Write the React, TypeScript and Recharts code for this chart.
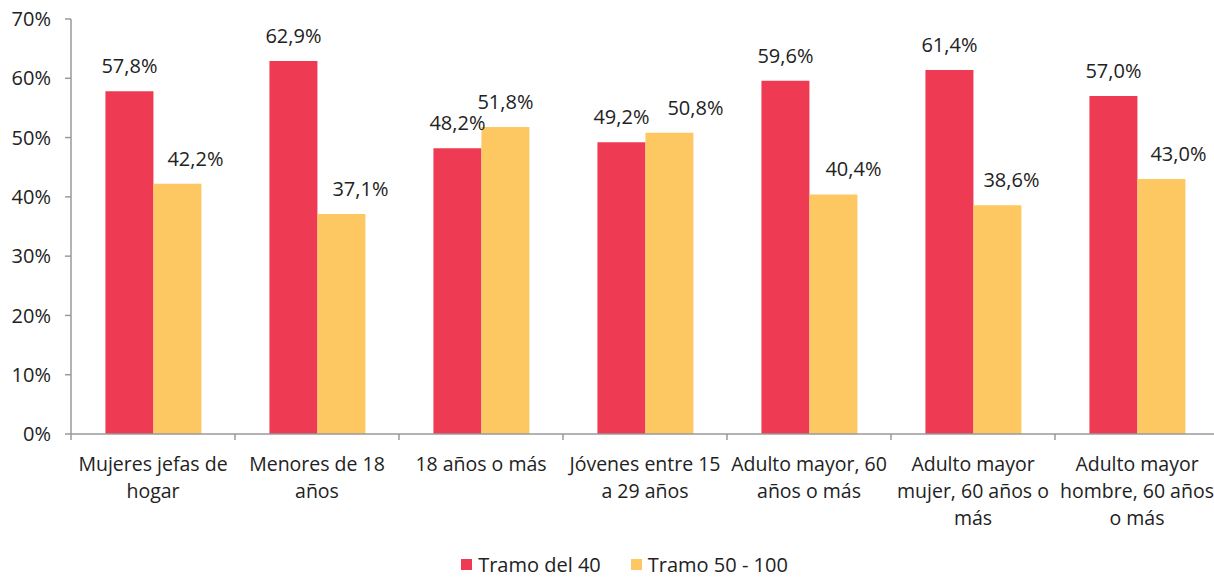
import { BarChart, Bar, XAxis, YAxis, LabelList, Legend } from "recharts";

const categories = [
  "Mujeres jefas de\nhogar",
  "Menores de 18\naños",
  "18 años o más",
  "Jóvenes entre 15\na 29 años",
  "Adulto mayor, 60\naños o más",
  "Adulto mayor\nmujer, 60 años o\nmás",
  "Adulto mayor\nhombre, 60 años\no más",
];
const tramo40 = [57.8, 62.9, 48.2, 49.2, 59.6, 61.4, 57.0];
const tramo50 = [42.2, 37.1, 51.8, 50.8, 40.4, 38.6, 43.0];
const yTicks = [0, 10, 20, 30, 40, 50, 60, 70];
// horizontal nudge of the "Tramo 50 - 100" value labels, as placed in the original
const tramo50LabelShift = [18, 19, 0, 26, 20, 14, 17];

const data = categories.map((c, i) => ({ name: c, t40: tramo40[i], t50: tramo50[i] }));

const FONT = "'Open Sans', sans-serif";
const FS = 20;
const RED = "#EE3B53";
const YELLOW = "#FDC862";
const AXIS = "#9A9A9A";

const W = 1225;
const H = 578;
const M = { top: 19, right: 6, left: 0, bottom: 0 };
const YW = 71;
const step = (W - M.left - M.right - YW) / categories.length;

const fmt = (v: number) => v.toFixed(1).replace(".", ",") + "%";

function XTick(props: any) {
  const { x, y, payload } = props;
  const lines = String(payload.value).split("\n");
  return (
    <g>
      <line x1={x - step / 2} y1={y - 8} x2={x - step / 2} y2={y - 2} stroke={AXIS} strokeWidth={1.5} />
      <text x={x} y={y + 29} textAnchor="middle" fontFamily={FONT} fontSize={19.5} fill="#222">
        {lines.map((l, i) => (
          <tspan key={i} x={x} dy={i === 0 ? 0 : 27}>
            {l}
          </tspan>
        ))}
      </text>
    </g>
  );
}

function ValueLabel(props: any) {
  const { x, y, width, value, index, shift } = props;
  const dx = shift ? shift[index] : 0;
  return (
    <text x={x + width / 2 + dx} y={y - 18} textAnchor="middle" fontFamily={FONT} fontSize={FS} fill="#222">
      {fmt(Number(value))}
    </text>
  );
}

function LegendContent() {
  const items = [
    { label: "Tramo del 40", color: RED },
    { label: "Tramo 50 - 100", color: YELLOW },
  ];
  return (
    <div style={{ display: "flex", justifyContent: "center", fontFamily: FONT, fontSize: FS, lineHeight: "27px", color: "#222", gap: 30, paddingLeft: 30 }}>
      {items.map((it) => (
        <div key={it.label} style={{ display: "flex", alignItems: "center" }}>
          <span style={{ display: "inline-block", width: 11, height: 11, background: it.color, marginRight: 6 }} />
          {it.label}
        </div>
      ))}
    </div>
  );
}

export default function App() {
  return (
    <div style={{ position: "absolute", left: 0, top: 0, width: 1214, height: 578, overflow: "hidden", background: "#fff" }}>
      <BarChart width={W} height={H} data={data} margin={M} barCategoryGap="21%" barGap={0}>
        <XAxis
          dataKey="name"
          height={117}
          axisLine={{ stroke: AXIS, strokeWidth: 1.5 }}
          tickLine={false}
          tick={<XTick />}
          interval={0}
        />
        <YAxis
          width={YW}
          domain={[0, 70]}
          ticks={yTicks}
          tickFormatter={(v: number) => v + "%"}
          axisLine={{ stroke: AXIS, strokeWidth: 1.5 }}
          tickLine={{ stroke: AXIS, strokeWidth: 1.5 }}
          tickSize={6}
          tickMargin={14}
          tick={{ fontFamily: FONT, fontSize: FS, fill: "#222" }}
        />
        <Legend verticalAlign="bottom" height={27} content={<LegendContent />} />
        <Bar dataKey="t40" fill={RED} isAnimationActive={false}>
          <LabelList dataKey="t40" content={<ValueLabel />} />
        </Bar>
        <Bar dataKey="t50" fill={YELLOW} isAnimationActive={false}>
          <LabelList dataKey="t50" content={<ValueLabel shift={tramo50LabelShift} />} />
        </Bar>
      </BarChart>
    </div>
  );
}
